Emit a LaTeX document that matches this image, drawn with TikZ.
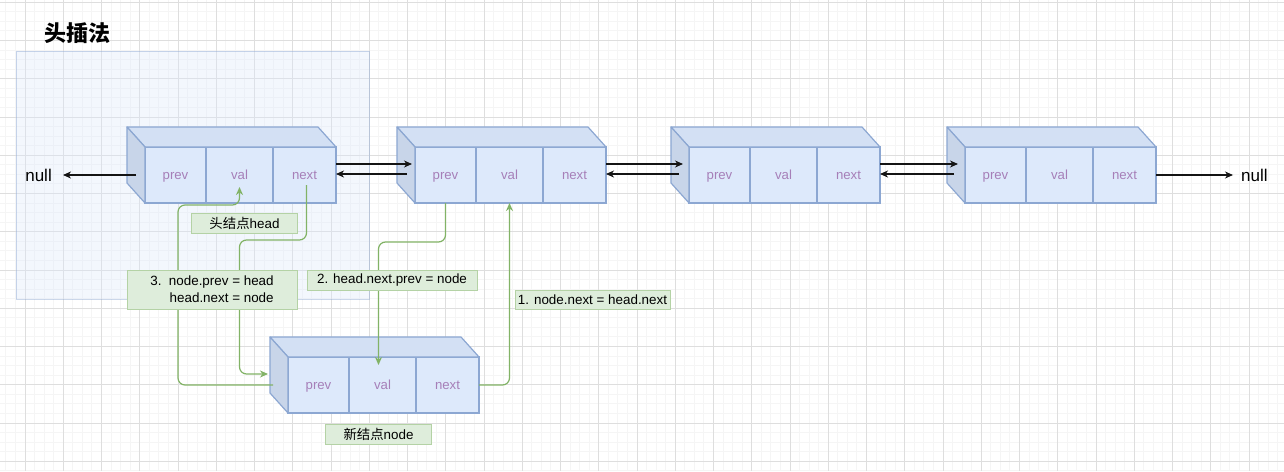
\documentclass[tikz,border=0pt]{standalone}
\usepackage{fontspec}
\setmainfont{Liberation Sans}
\newfontfamily\cjk{Noto Sans CJK SC}
\usetikzlibrary{arrows.meta, positioning, calc}
\definecolor{cellblue}{RGB}{221,233,251}
\definecolor{topblue}{RGB}{211,224,244}
\definecolor{sideblue}{RGB}{200,213,233}
\definecolor{edgeblue}{RGB}{140,167,210}
\definecolor{textpurple}{RGB}{166,127,184}
\definecolor{linkgreen}{RGB}{130,179,102}
\definecolor{notefill}{RGB}{222,237,219}
\definecolor{noteedge}{RGB}{180,210,165}
\definecolor{darkline}{RGB}{20,20,20}
\definecolor{gridmajor}{RGB}{222,222,222}
\definecolor{gridminor}{RGB}{245,245,245}

\begin{document}
\begin{tikzpicture}[x=1pt, y=-1pt,
    cell/.style={rectangle, draw=edgeblue, fill=cellblue, line width=1.2pt, minimum height=56pt, inner sep=0pt, outer sep=0pt, text height=11pt, text depth=2pt, text=textpurple, font=\fontsize{13.2}{15}\selectfont},
    prevcell/.style={cell, minimum width=61pt},
    valcell/.style={cell, minimum width=67pt},
    nextcell/.style={cell, minimum width=63pt},
    face/.style={draw=edgeblue, line width=1.2pt, line join=round},
    note/.style={rectangle, draw=noteedge, fill=notefill, line width=1pt, inner sep=0pt, minimum height=20pt, align=center, font=\fontsize{13.4}{15}\selectfont},
    nulltext/.style={font=\fontsize{17}{19}\selectfont, inner sep=5pt},
    arrow/.style={-{Stealth[length=8pt, width=7pt, inset=2.5pt]}, line width=1.1pt, color=darkline},
    link/.style={-{Stealth[length=8pt, width=7pt, inset=2.5pt]}, line width=1.2pt, color=linkgreen, rounded corners=7pt}
]
\useasboundingbox (0,0) rectangle (1284,471);
\fill[white] (0,0) rectangle (1284,471);
\foreach \i in {0,...,133} \draw[gridminor, line width=1pt] (5.875+9.5625*\i,0) -- (5.875+9.5625*\i,471);
\foreach \j in {0,...,49} \draw[gridminor, line width=1pt] (0,2.3+9.5625*\j) -- (1284,2.3+9.5625*\j);
\foreach \i in {0,...,32} \draw[gridmajor, line width=1pt] (25+38.25*\i,0) -- (25+38.25*\i,471);
\foreach \j in {0,...,12} \draw[gridmajor, line width=1pt] (0,2.3+38.25*\j) -- (1284,2.3+38.25*\j);

\draw[draw=edgeblue, draw opacity=0.45, fill=cellblue, fill opacity=0.35, line width=1pt] (16,51) rectangle (369,299);
\node[font={\cjk\bfseries\fontsize{22}{24}\selectfont}] (title) at (77,33) {头插法};

\node[prevcell] (h-prev) at (175.5,175) {prev};
\node[valcell, right=0pt of h-prev] (h-val) {val};
\node[nextcell, right=0pt of h-val] (h-next) {next};
\node[prevcell, right=79pt of h-next] (a-prev) {prev};
\node[valcell, right=0pt of a-prev] (a-val) {val};
\node[nextcell, right=0pt of a-val] (a-next) {next};
\node[prevcell, right=83pt of a-next] (b-prev) {prev};
\node[valcell, right=0pt of b-prev] (b-val) {val};
\node[nextcell, right=0pt of b-val] (b-next) {next};
\node[prevcell, right=85pt of b-next] (c-prev) {prev};
\node[valcell, right=0pt of c-prev] (c-val) {val};
\node[nextcell, right=0pt of c-val] (c-next) {next};
\node[prevcell] (new-prev) at (318.5,385) {prev};
\node[valcell, right=0pt of new-prev] (new-val) {val};
\node[nextcell, right=0pt of new-val] (new-next) {next};
\foreach \n in {h, a, b, c, new} {
  \filldraw[face, fill=topblue] (\n-prev.north west) -- ++(-18,-20) -- ([shift={(-18,-20)}]\n-next.north east) -- (\n-next.north east) -- cycle;
  \filldraw[face, fill=sideblue] (\n-prev.north west) -- ++(-18,-20) -- ++(0,56) -- (\n-prev.south west) -- cycle;
}

\node[nulltext, left=88pt of h-prev] (null-l) {null};
\node[nulltext, right=80pt of c-next] (null-r) {null};
\draw[arrow] ([xshift=-9pt]h-prev.west) -- ([xshift=6pt]null-l.east);
\draw[arrow] (c-next.east) -- ([xshift=-3pt]null-r.west);
\draw[arrow] ([yshift=11pt]h-next.east) -- ([xshift=-3pt,yshift=11pt]a-prev.west);
\draw[arrow] ([xshift=-8pt,yshift=1pt]a-prev.west) -- ([yshift=1pt]h-next.east);
\draw[arrow] ([yshift=11pt]a-next.east) -- ([xshift=-6pt,yshift=11pt]b-prev.west);
\draw[arrow] ([xshift=-10pt,yshift=1pt]b-prev.west) -- ([yshift=1pt]a-next.east);
\draw[arrow] ([yshift=11pt]b-next.east) -- ([xshift=-7pt,yshift=11pt]c-prev.west);
\draw[arrow] ([xshift=-11pt,yshift=1pt]c-prev.west) -- ([yshift=1pt]b-next.east);

\draw[link] (new-next.east) -| (a-val.south);
\draw[link] (a-prev.south) -- ++(0,39) -| ([xshift=-4pt,yshift=-8pt]new-val.north);
\draw[link] ([xshift=-15pt]new-prev.west) -| ++(-95,-180) -| ([yshift=-12pt]h-val.center);
\draw[link] ([xshift=2pt,yshift=-10pt]h-next.center) |- ++(-67,55) |- ([xshift=-20pt,yshift=11pt]new-prev.west);

\node[note, minimum width=106pt, below=10pt of h-val, xshift=5pt] (head-note) {{\cjk 头结点}head};
\node[note, minimum width=106pt, below=11pt of new-val, xshift=-4pt] (new-note) {{\cjk 新结点}node};
\node[note, minimum width=155pt, minimum height=19pt] (step-one) at (592.5,299.5) {1. node.next = head.next};
\node[note, minimum width=170pt] (step-two) at (392,280) {2. head.next.prev = node};
\node[note, minimum width=170pt, minimum height=39pt, align=right, font=\fontsize{13.4}{17}\selectfont] (step-three) at (212,289.5) {3.\ \ node.prev = head\\head.next = node};
\end{tikzpicture}
\end{document}
